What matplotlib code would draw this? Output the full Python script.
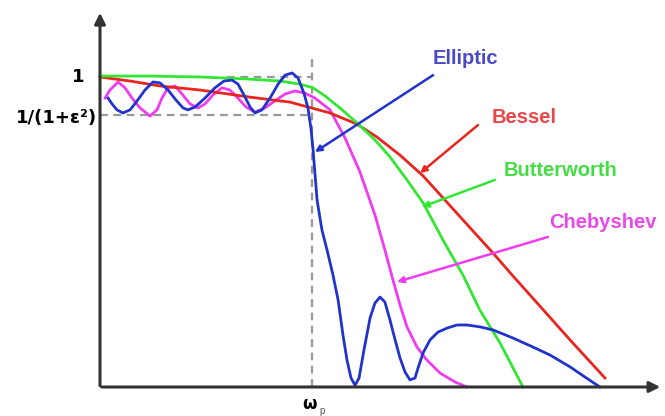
import matplotlib
matplotlib.use("Agg")
import matplotlib.pyplot as plt

# normalised frequency w/wp and magnitude |H|
bessel_w = [0, 0.142, 0.283, 0.472, 0.708, 0.896, 1.085, 1.212, 1.307, 1.415, 1.524, 1.618,
            1.712, 1.854, 1.948, 2.075, 2.217, 2.382]
bessel_h = [1.0, 0.987, 0.971, 0.958, 0.935, 0.919, 0.884, 0.848, 0.806, 0.748, 0.681, 0.610,
            0.539, 0.432, 0.358, 0.261, 0.152, 0.029]

butter_w = [0, 0.236, 0.472, 0.684, 0.849, 0.943, 1.005, 1.061, 1.132, 1.212, 1.297, 1.368,
            1.448, 1.524, 1.618, 1.712, 1.792, 1.887, 1.995]
butter_h = [1.003, 1.003, 1.0, 0.994, 0.987, 0.977, 0.965, 0.939, 0.9, 0.852, 0.797, 0.742,
            0.668, 0.594, 0.474, 0.361, 0.248, 0.142, 0.0]

cheby_w = [0.024, 0.047, 0.085, 0.118, 0.151, 0.189, 0.236, 0.269, 0.292, 0.321,
           0.354, 0.387, 0.425, 0.462, 0.495, 0.533, 0.575, 0.613, 0.651, 0.689,
           0.731, 0.778, 0.825, 0.873, 0.920, 0.967, 1.014, 1.085, 1.156, 1.226,
           1.297, 1.344, 1.382, 1.415, 1.448, 1.495, 1.542, 1.604, 1.675, 1.731]
cheby_h = [0.932, 0.958, 0.984, 0.965, 0.932, 0.900, 0.874, 0.894, 0.932, 0.965,
           0.971, 0.945, 0.913, 0.900, 0.913, 0.942, 0.965, 0.958, 0.932, 0.903,
           0.887, 0.900, 0.923, 0.945, 0.955, 0.948, 0.932, 0.894, 0.803, 0.694,
           0.555, 0.442, 0.345, 0.265, 0.194, 0.129, 0.087, 0.045, 0.016, 0.0]

ellip_w = [0.038, 0.057, 0.080, 0.108, 0.142, 0.175, 0.212, 0.250, 0.283, 0.321,
           0.358, 0.392, 0.415, 0.448, 0.495, 0.542, 0.585, 0.623, 0.651, 0.679,
           0.708, 0.731, 0.764, 0.802, 0.840, 0.873, 0.906, 0.934, 0.962, 0.981,
           0.995, 1.005, 1.024, 1.047, 1.071, 1.099, 1.123, 1.146, 1.165, 1.184,
           1.203, 1.222, 1.245, 1.274, 1.297, 1.321, 1.344, 1.368, 1.392, 1.415,
           1.439, 1.462, 1.486, 1.500, 1.524, 1.557, 1.594, 1.637, 1.684, 1.731,
           1.792, 1.854, 1.948, 2.042, 2.123, 2.217, 2.288, 2.358]
ellip_h = [0.932, 0.913, 0.894, 0.884, 0.894, 0.923, 0.958, 0.984, 0.981, 0.958,
           0.926, 0.900, 0.894, 0.903, 0.932, 0.965, 0.987, 0.990, 0.977, 0.942,
           0.903, 0.884, 0.894, 0.932, 0.977, 1.006, 1.013, 0.997, 0.948, 0.900,
           0.835, 0.765, 0.603, 0.506, 0.442, 0.361, 0.281, 0.168, 0.087, 0.029,
           0.006, 0.029, 0.119, 0.223, 0.271, 0.290, 0.274, 0.216, 0.152, 0.094,
           0.048, 0.023, 0.029, 0.061, 0.110, 0.152, 0.177, 0.190, 0.200, 0.200,
           0.194, 0.184, 0.158, 0.129, 0.103, 0.065, 0.032, 0.000]

ripple = 0.877   # 1/(1+eps^2)
wp = 1.0

# label text, label centre, arrow tail, arrow head
labels = ["Elliptic", "Bessel", "Butterworth", "Chebyshev"]
label_xy = [(1.722, 1.06), (2.0, 0.868), (2.17, 0.70), (2.37, 0.532)]
tail_xy = [(1.571, 1.006), (1.783, 0.845), (1.863, 0.668), (2.113, 0.484)]
head_xy = [(1.014, 0.758), (1.51, 0.69), (1.519, 0.581), (1.401, 0.339)]

RED = '#e8251f'; GREEN = '#33e633'; MAG = '#f03cf0'; BLUE = '#2233cc'
TXT = ['#4a4ac8', '#e84848', '#44dd44', '#e84ae8']
LINE = [BLUE, RED, GREEN, MAG]
AX = '#333333'; DASH = '#999999'

plt.rcParams['font.family'] = ['Liberation Sans', 'DejaVu Sans']
fig = plt.figure(figsize=(6.65, 4.16), dpi=100)
ax = fig.add_axes([0, 0, 1, 1])
ax.set_xlim(-100/212, 565/212)
ax.set_ylim(-29/310, 387/310)
ax.set_axis_off()

# guide lines
ax.plot([0, wp], [ripple, ripple], color=DASH, lw=1.6, dashes=(3.5, 2.5), zorder=1)
ax.plot([0.6, wp], [1, 1], color=DASH, lw=1.6, dashes=(3.5, 2.5), zorder=1)
ax.plot([wp, wp], [0, 1.061], color=DASH, lw=1.6, dashes=(3.5, 2.5), zorder=1)

# curves
ax.plot(cheby_w, cheby_h, color=MAG, lw=2.0, zorder=3)
ax.plot(bessel_w, bessel_h, color=RED, lw=2.0, zorder=3)
ax.plot(butter_w, butter_h, color=GREEN, lw=2.0, zorder=3)
ax.plot(ellip_w, ellip_h, color=BLUE, lw=2.0, zorder=4)

# axes with arrows
ax.annotate('', xy=(2.656, 0), xytext=(-0.005, 0),
            arrowprops=dict(arrowstyle='-|>', lw=2.2, color=AX, mutation_scale=16), zorder=5)
ax.annotate('', xy=(0, 1.216), xytext=(0, -0.005),
            arrowprops=dict(arrowstyle='-|>', lw=2.2, color=AX, mutation_scale=16), zorder=5)

# labels with arrows
for name, lxy, t, h, tc, lc in zip(labels, label_xy, tail_xy, head_xy, TXT, LINE):
    ax.text(lxy[0], lxy[1], name, color=tc, fontsize=14.5, fontweight='bold',
            ha='center', va='center')
    ax.annotate('', xy=h, xytext=t,
                arrowprops=dict(arrowstyle='-|>', lw=1.8, color=lc, mutation_scale=9,
                                shrinkA=0, shrinkB=0), zorder=6)

# axis labels
ax.annotate('1', xy=(0, 1), xytext=(-16, 0), textcoords='offset points',
            ha='center', va='center', fontsize=13, fontweight='bold', family='DejaVu Sans')
ax.annotate('1/(1+ε²)', xy=(0, ripple), xytext=(-2, -2), textcoords='offset points',
            ha='right', va='center', fontsize=13, fontweight='bold', family='DejaVu Sans')
ax.annotate('ω', xy=(wp, 0), xytext=(-2, -12), textcoords='offset points',
            ha='center', va='center', fontsize=12, fontweight='bold', family='DejaVu Sans')
ax.annotate('p', xy=(wp, 0), xytext=(7, -17), textcoords='offset points',
            ha='center', va='center', fontsize=7, color='#555555')

fig.savefig("out.png", dpi=100, facecolor='white')
